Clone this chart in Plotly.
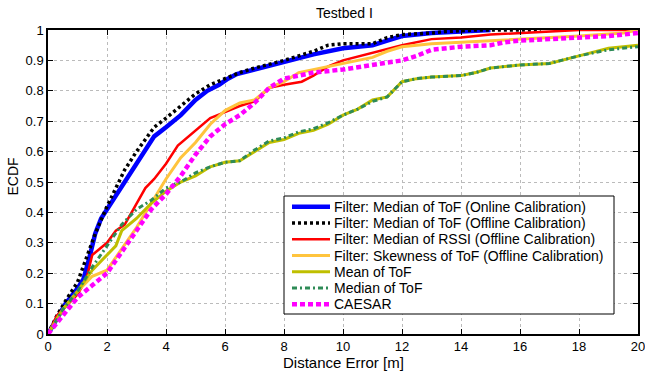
import plotly.graph_objects as go

# ---- data ----
online_x = [0, 0.3, 0.6, 1.0, 1.2, 1.4, 1.6, 1.8, 2.0, 2.3, 2.6, 3.0, 3.3, 3.6, 4.0, 4.5, 5.0, 5.4, 5.8, 6.1, 6.4, 7.0, 7.5, 8.0, 9.0, 10.0, 11.0, 11.5, 12.0, 13.0, 13.8, 14.5, 15.0]
online_y = [0, 0.05, 0.10, 0.15, 0.18, 0.25, 0.33, 0.38, 0.41, 0.46, 0.50, 0.56, 0.61, 0.65, 0.68, 0.72, 0.77, 0.80, 0.82, 0.84, 0.855, 0.87, 0.88, 0.895, 0.92, 0.94, 0.95, 0.965, 0.98, 0.99, 0.995, 1.0, 1.0]

offline_x = [0, 0.3, 0.6, 1.0, 1.3, 1.6, 2.0, 2.3, 2.6, 3.0, 3.3, 3.6, 4.0, 4.5, 5.0, 5.5, 6.0, 6.5, 7.0, 8.0, 9.0, 9.5, 10.0, 11.0, 11.5, 12.0, 13.0, 13.5, 14.5, 16.7]
offline_y = [0, 0.06, 0.11, 0.17, 0.25, 0.33, 0.42, 0.48, 0.54, 0.60, 0.64, 0.68, 0.71, 0.75, 0.79, 0.82, 0.84, 0.86, 0.875, 0.90, 0.93, 0.95, 0.955, 0.955, 0.975, 0.985, 0.99, 0.995, 1.0, 1.0]

rssi_x = [0, 0.3, 0.6, 1.0, 1.3, 1.5, 2.0, 2.3, 2.6, 3.0, 3.3, 3.6, 4.0, 4.4, 5.0, 5.5, 6.0, 6.5, 7.0, 7.5, 8.0, 8.6, 9.0, 9.5, 10.0, 11.0, 11.5, 12.0, 13.0, 14.0, 15.0, 16.0, 18.0, 20.0]
rssi_y = [0, 0.06, 0.09, 0.13, 0.18, 0.26, 0.30, 0.34, 0.36, 0.43, 0.48, 0.51, 0.56, 0.62, 0.67, 0.71, 0.73, 0.75, 0.765, 0.81, 0.82, 0.83, 0.85, 0.88, 0.90, 0.925, 0.94, 0.95, 0.97, 0.975, 0.985, 0.99, 1.0, 1.0]

skew_x = [0, 0.5, 1.0, 1.5, 2.0, 2.5, 3.0, 3.5, 4.0, 4.5, 5.0, 5.5, 6.0, 6.5, 7.0, 7.5, 8.0, 8.5, 9.0, 10.0, 11.0, 11.5, 12.0, 13.0, 14.0, 15.0, 16.0, 18.0, 19.5, 20.0]
skew_y = [0, 0.08, 0.14, 0.19, 0.21, 0.28, 0.35, 0.43, 0.51, 0.58, 0.63, 0.69, 0.735, 0.76, 0.77, 0.81, 0.83, 0.86, 0.87, 0.89, 0.91, 0.93, 0.945, 0.955, 0.96, 0.965, 0.97, 0.98, 0.99, 1.0]

mean_x = [0, 0.5, 1.0, 1.5, 2.0, 2.3, 2.5, 3.0, 3.5, 4.0, 4.5, 5.0, 5.5, 6.0, 6.5, 7.0, 7.5, 8.0, 8.5, 9.0, 9.5, 10.0, 10.5, 11.0, 11.5, 12.0, 12.5, 13.0, 14.0, 14.5, 15.0, 16.0, 17.0, 18.0, 19.0, 20.0]
mean_y = [0, 0.08, 0.14, 0.21, 0.26, 0.29, 0.34, 0.38, 0.43, 0.47, 0.50, 0.52, 0.55, 0.565, 0.57, 0.60, 0.63, 0.64, 0.66, 0.67, 0.69, 0.72, 0.74, 0.77, 0.78, 0.83, 0.84, 0.845, 0.85, 0.86, 0.875, 0.885, 0.89, 0.915, 0.94, 0.95]

median_x = [0, 0.5, 1.0, 1.5, 2.0, 2.3, 2.5, 3.0, 3.5, 4.0, 4.5, 5.0, 5.5, 6.0, 6.5, 7.0, 7.5, 8.0, 8.5, 9.0, 9.5, 10.0, 10.5, 11.0, 11.5, 12.0, 12.5, 13.0, 14.0, 14.5, 15.0, 16.0, 17.0, 18.0, 19.0, 20.0]
median_y = [0, 0.08, 0.14, 0.22, 0.29, 0.33, 0.36, 0.41, 0.44, 0.48, 0.50, 0.53, 0.55, 0.565, 0.57, 0.605, 0.635, 0.645, 0.665, 0.675, 0.695, 0.72, 0.74, 0.765, 0.78, 0.83, 0.84, 0.845, 0.85, 0.86, 0.875, 0.885, 0.89, 0.915, 0.935, 0.945]

caesar_x = [0, 0.5, 1.0, 1.5, 2.0, 2.5, 3.0, 3.5, 4.0, 4.5, 5.0, 5.5, 6.0, 6.5, 7.0, 7.5, 8.0, 9.0, 10.0, 11.0, 12.0, 12.5, 13.0, 14.0, 15.0, 15.5, 16.0, 17.0, 18.0, 19.0, 20.0]
caesar_y = [0, 0.06, 0.12, 0.16, 0.20, 0.27, 0.34, 0.41, 0.46, 0.52, 0.59, 0.65, 0.69, 0.72, 0.76, 0.81, 0.84, 0.86, 0.87, 0.885, 0.90, 0.915, 0.935, 0.945, 0.95, 0.96, 0.965, 0.97, 0.975, 0.98, 0.99]

names = [
    "Filter: Median of ToF (Online Calibration)",
    "Filter: Median of ToF (Offline Calibration)",
    "Filter: Median of RSSI (Offline Calibration)",
    "Filter: Skewness of ToF (Offline Calibration)",
    "Mean of ToF",
    "Median of ToF",
    "CAESAR",
]

x_ticks = list(range(0, 21, 2))
y_ticks = [i / 10 for i in range(11)]
y_tick_text = ["0"] + [f"{v:.1f}" for v in y_ticks[1:-1]] + ["1"]

# ---- layout geometry ----
W, H = 645, 371
L, R, T, B = 48, 7, 30, 37
PW, PH = W - L - R, H - T - B
font = "Liberation Sans, Arial, sans-serif"

styles = [
    dict(color="#0000FF", width=4.5),
    dict(color="#000000", width=3.5, dash="3px,3px"),
    dict(color="#FF0000", width=2.5),
    dict(color="#FFC43D", width=3),
    dict(color="#BFBF00", width=3),
    dict(color="#2E8B57", width=3, dash="5px,3px,2px,3px"),
    dict(color="#FF00FF", width=4.5, dash="5px,3px"),
]
series = [(online_x, online_y), (offline_x, offline_y), (rssi_x, rssi_y), (skew_x, skew_y),
          (mean_x, mean_y), (median_x, median_y), (caesar_x, caesar_y)]

fig = go.Figure()
for (xs, ys), ln, nm in zip(series, styles, names):
    fig.add_trace(go.Scatter(x=xs, y=ys, mode="lines", name=nm, line=ln, showlegend=False))


def px_x(p):
    return (p - L) / PW


def px_y(p):
    return (H - B - p) / PH


# manual legend (MATLAB-like compact box)
shapes = [dict(type="rect", xref="paper", yref="paper",
               x0=px_x(284), x1=px_x(614), y0=px_y(314), y1=px_y(196),
               line=dict(color="black", width=1), fillcolor="white", layer="above")]
annotations = []
for i, (ln, nm) in enumerate(zip(styles, names)):
    yc = 206.7 + i * 16.27
    shapes.append(dict(type="line", xref="paper", yref="paper",
                       x0=px_x(292), x1=px_x(330), y0=px_y(yc), y1=px_y(yc),
                       line=ln, layer="above"))
    annotations.append(dict(text=nm, xref="paper", yref="paper", x=px_x(332), y=px_y(yc),
                            xanchor="left", yanchor="middle", showarrow=False,
                            font=dict(size=14, family=font, color="black")))

annotations.append(dict(text="Distance Error [m]", xref="paper", yref="paper",
                        x=px_x(343.5), y=px_y(362), xanchor="center", yanchor="middle",
                        showarrow=False, font=dict(size=15, family=font, color="black")))
annotations.append(dict(text="ECDF", xref="paper", yref="paper", textangle=-90,
                        x=px_x(12), y=px_y(176.5), xanchor="center", yanchor="middle",
                        showarrow=False, font=dict(size=14, family=font, color="black")))
annotations.append(dict(text="Testbed I", xref="paper", yref="paper",
                        x=px_x(345), y=px_y(13), xanchor="center", yanchor="middle",
                        showarrow=False, font=dict(size=14, family=font, color="black")))

axis_common = dict(
    showline=True, linecolor="black", linewidth=1.5, mirror="ticks",
    ticks="inside", ticklen=5, tickcolor="black", tickwidth=1,
    showgrid=True, gridcolor="#BBBBBB", griddash="dot", gridwidth=1,
    zeroline=False, automargin=False, ticklabeloverflow="allow",
    tickfont=dict(size=13, color="black", family=font),
)
fig.update_layout(
    width=W, height=H,
    margin=dict(l=L, r=R, t=T, b=B),
    paper_bgcolor="white", plot_bgcolor="white",
    font=dict(family=font, color="black", size=13),
    xaxis=dict(range=[0, 20], tickvals=x_ticks, ticktext=[str(v) for v in x_ticks],
               ticklabelstandoff=0, **axis_common),
    yaxis=dict(range=[0, 1], tickvals=y_ticks, ticktext=y_tick_text,
               ticklabelstandoff=0, **axis_common),
    shapes=shapes,
    annotations=annotations,
    showlegend=False,
)
fig.write_html("out.html", config={"displayModeBar": False},
               post_script="document.body.style.margin='0';document.body.style.overflow='hidden';")
